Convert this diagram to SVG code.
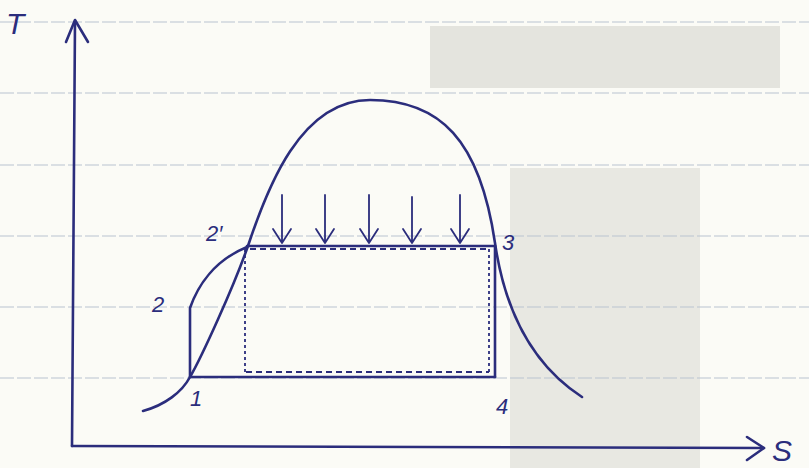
<svg xmlns="http://www.w3.org/2000/svg" width="809" height="468" viewBox="0 0 809 468">
<defs>
<style>
.ink{fill:none;stroke:#2b2d7c;stroke-width:2.6;stroke-linecap:round;stroke-linejoin:round}
.thin{fill:none;stroke:#2b2d7c;stroke-width:1.8;stroke-linecap:round;stroke-linejoin:round}
.dash{fill:none;stroke:#2b2d7c;stroke-width:1.8;stroke-dasharray:6 4}
.dot{fill:none;stroke:#2b2d7c;stroke-width:1.8;stroke-dasharray:3 3}
.rule{stroke:#b9c3cf;stroke-width:1.2;stroke-dasharray:14 3}
.lbl{font-family:"Liberation Sans",Arial,sans-serif;font-style:italic;font-size:22px;fill:#2b2d7c}
.big{font-size:30px}
</style>
</defs>
<rect width="809" height="468" fill="#fbfbf6"/>
<g id="paper">
<rect x="430" y="26" width="350" height="62" fill="#e4e4de"/>
<rect x="510" y="168" width="190" height="300" fill="#e8e8e2"/>
<line class="rule" x1="0" y1="22" x2="809" y2="22"/>
<line class="rule" x1="0" y1="93" x2="809" y2="93"/>
<line class="rule" x1="0" y1="165" x2="809" y2="165"/>
<line class="rule" x1="0" y1="236" x2="809" y2="236"/>
<line class="rule" x1="0" y1="307" x2="809" y2="307"/>
<line class="rule" x1="0" y1="378" x2="809" y2="378"/>
</g>
<g id="axes">
<path class="ink" d="M72 446 L75 21"/>
<path class="ink" d="M66 42 L75 20 L88 42"/>
<path class="ink" d="M72 446 L764 448"/>
<path class="ink" d="M747 437 L764 448 L747 460"/>
<text class="lbl big" x="6" y="34">T</text>
<text class="lbl big" x="772" y="461">S</text>
</g>
<g id="dome">
<path class="ink" d="M143 411 C165 405 182 392 190 377 C200 360 235 285 250 240 C267 190 300 100 370 100 C440 100 480 140 495 243 C503 298 525 360 582 397"/>
</g>
<g id="process">
<path class="ink" d="M190 377 L190 308 C198 285 215 260 247 247"/>
<path class="ink" d="M247 246 L495 246"/>
<path class="ink" d="M495 246 L495 377"/>
<path class="ink" d="M190 377 L495 377"/>
<path class="dash" d="M250 249 L489 249"/>
<path class="dash" d="M246 372 L489 372"/>
<path class="dot" d="M245 249 L245 372"/>
<path class="dot" d="M489 249 L489 372"/>
</g>
<g id="heat-arrows">
<path class="thin" d="M282 195 L282 243 M273 229 L282 243 L291 229"/>
<path class="thin" d="M325 195 L325 243 M316 229 L325 243 L334 229"/>
<path class="thin" d="M369 195 L369 243 M360 229 L369 243 L378 229"/>
<path class="thin" d="M412 197 L412 243 M403 229 L412 243 L421 229"/>
<path class="thin" d="M460 195 L460 243 M451 229 L460 243 L469 229"/>
</g>
<g id="labels">
<text class="lbl" x="206" y="241">2′</text>
<text class="lbl" x="152" y="312">2</text>
<text class="lbl" x="190" y="406">1</text>
<text class="lbl" x="502" y="250">3</text>
<text class="lbl" x="496" y="414">4</text>
</g>
</svg>
